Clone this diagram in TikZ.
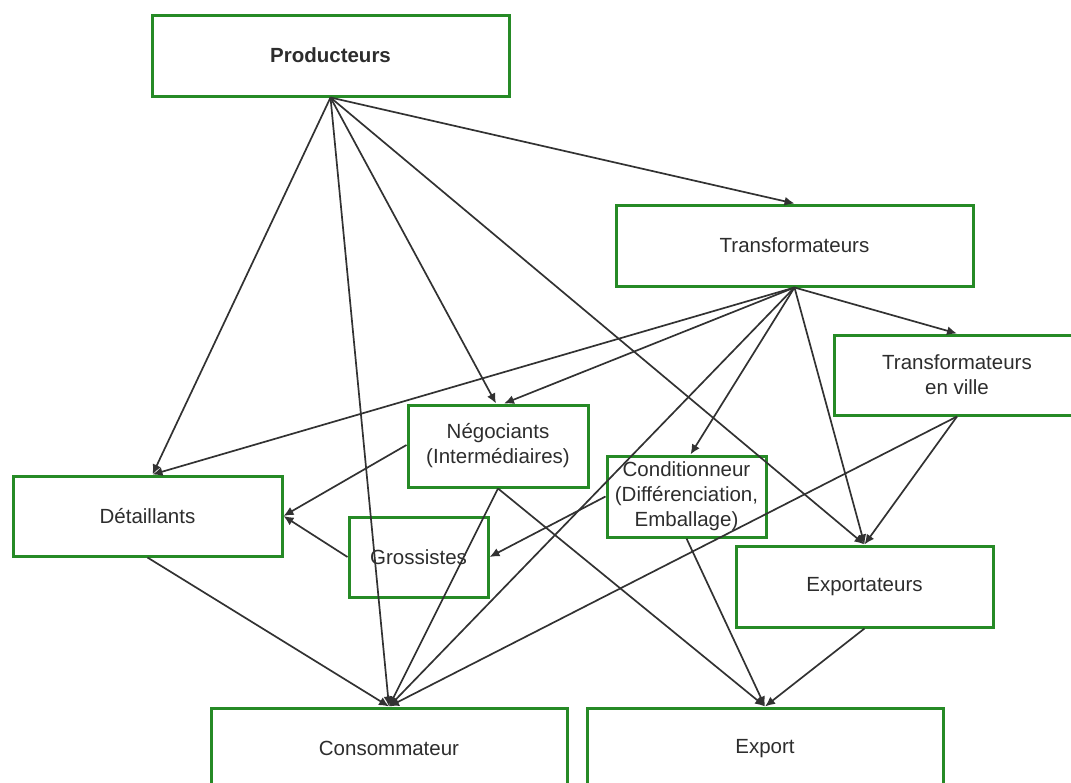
\documentclass[tikz,border=0pt]{standalone}
\usepackage{fontspec}
\setmainfont{Liberation Sans}
\usetikzlibrary{arrows.meta}
\definecolor{boxgreen}{RGB}{38,138,38}
\definecolor{linegray}{RGB}{50,50,50}
\definecolor{txtgray}{RGB}{45,45,45}
\begin{document}
\begin{tikzpicture}[x=1pt,y=-1pt,
 box/.style={draw=boxgreen,line width=3pt,text=txtgray,font=\fontsize{20.5}{25}\selectfont,align=center,inner sep=0pt},
 arr/.style={draw=linegray,line width=1.7pt,-{Latex[length=10pt,width=9pt]}}]
\useasboundingbox (0,0) rectangle (1071,782);
\clip (0,0) rectangle (1071,782);
\node[box,minimum width=357pt,minimum height=81pt,font=\bfseries\fontsize{20.5}{25}\selectfont] (prod) at (330.5,55.5) {Producteurs};
\node[box,minimum width=357pt,minimum height=81pt] (trans) at (794.5,245.5) {Transformateurs};
\node[box,minimum width=246pt,minimum height=80pt] (tville) at (957,375) {Transformateurs\\en ville};
\node[box,minimum width=180pt,minimum height=82pt] (nego) at (498,446) {Négociants\\(Intermédiaires)};
\node[box,minimum width=139pt,minimum height=80pt] (gros) at (418.5,557) {Grossistes};
\node[box,minimum width=159pt,minimum height=81pt] (cond) at (686.5,496.5) {Conditionneur\\(Différenciation,\\Emballage)};
\node[box,minimum width=269pt,minimum height=80pt] (detail) at (147.5,516) {Détaillants};
\node[box,minimum width=257pt,minimum height=81pt] (expt) at (864.5,586.5) {Exportateurs};
\node[box,minimum width=356pt,minimum height=81pt] (conso) at (389,748.5) {Consommateur};
\node[box,minimum width=356pt,minimum height=81pt] (export) at (765,748.5) {Export};
\draw[arr] (prod.south) -- (trans.north);
\draw[arr] (prod.south) -- ([xshift=5pt]detail.north);
\draw[arr] (prod.south) -- (conso.north);
\draw[arr] (prod.south) -- ([xshift=-2pt]nego.north);
\draw[arr] (prod.south) -- (expt.north);
\draw[arr] (trans.south) -- (tville.north);
\draw[arr] (trans.south) -- ([xshift=5pt]detail.north);
\draw[arr] (trans.south) -- ([xshift=6pt]nego.north);
\draw[arr] (trans.south) -- ([xshift=4pt]cond.north);
\draw[arr] (trans.south) -- (conso.north);
\draw[arr] (trans.south) -- (expt.north);
\draw[arr] (tville.south) -- (expt.north);
\draw[arr] (tville.south) -- (conso.north);
\draw[arr] ([yshift=1pt]nego.west) -- (detail.east);
\draw[arr] (nego.south) -- (conso.north);
\draw[arr] (nego.south) -- (export.north);
\draw[arr] (gros.west) -- (detail.east);
\draw[arr] (cond.west) -- (gros.east);
\draw[arr] (cond.south) -- (export.north);
\draw[arr] (detail.south) -- (conso.north);
\draw[arr] (expt.south) -- (export.north);
\end{tikzpicture}
\end{document}
